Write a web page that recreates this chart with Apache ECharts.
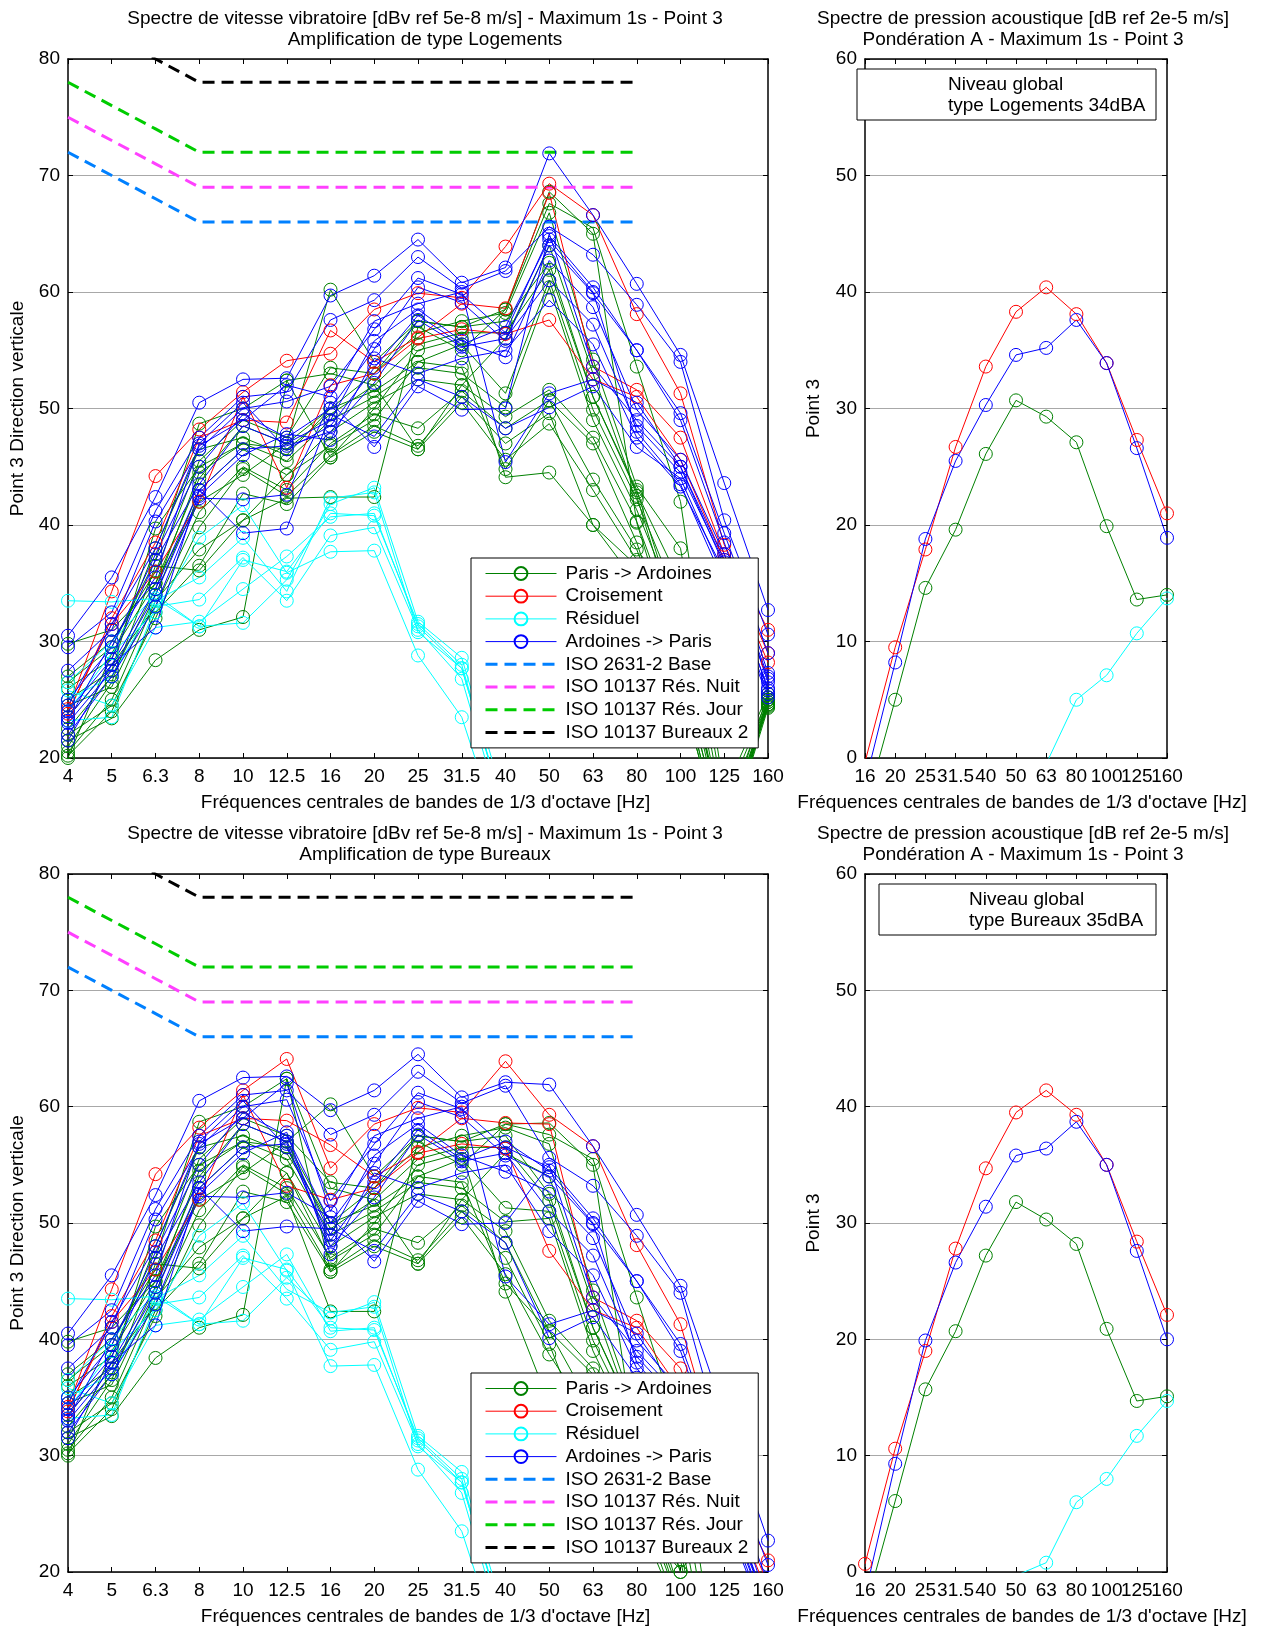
<!DOCTYPE html>
<html><head><meta charset="utf-8">
<script src="https://cdn.jsdelivr.net/npm/echarts@6/dist/echarts.min.js"></script>
<style>html,body{margin:0;padding:0;background:#fff}#c{width:1264px;height:1627px}</style>
</head><body><div id="c"></div><script>
// ---------- categories ----------
const frequencesVib = ['4','5','6.3','8','10','12.5','16','20','25','31.5','40','50','63','80','100','125','160'];
const frequencesAcou = ['16','20','25','31.5','40','50','63','80','100','125','160'];

// ---------- vibratory spectra, amplification type Logements (dBv) ----------
const parisArdoinesLog = [
  [29.8,31.0,35.0,44.0,48.5,47.0,60.2,54.0,57.5,57.0,58.5,67.6,65.5,53.6,42.0,17,25.5],
  [27.0,30.0,36.0,45.5,49.0,47.5,53.5,53.0,56.5,57.5,58.2,66.8,54.2,43.3,38,16,25.2],
  [26.5,29.5,37.0,48.7,50.0,52.4,53.0,52.0,55.5,56.5,56.5,61.9,51.0,42.8,35,15,25.0],
  [26.0,28.5,38.0,46.5,47.5,46.0,50.0,51.5,54.0,55.5,51.3,61.0,49.9,42.2,33,14,24.8],
  [25.0,27.5,39.7,45.0,47.0,45.5,49.0,51.0,53.5,53.0,50.1,60.4,49.0,41.3,32,13,24.6],
  [24.5,26.1,34.0,43.0,46.5,44.3,48.0,50.5,52.5,52.0,49.3,51.6,47.5,40.3,30,14,24.4],
  [23.5,28.0,33.0,41.1,45.0,43.0,47.0,49.5,48.3,51.5,48.3,50.7,43.9,37.9,28,13,24.5],
  [22.0,24.5,32.0,39.8,44.8,42.5,46.0,48.5,46.8,51.0,47.0,49.6,40.0,35,26,12,25.0],
  [21.5,23.4,28.4,31.0,32.1,52.4,45.8,48.0,46.5,50.5,45.6,48.7,43.0,37,27,12,24.3],
  [21.0,26.5,36.5,36.1,40.4,42.3,42.4,42.4,57.0,55.0,58.5,68.6,65.0,40.2,28,13,25.2],
  [20.5,25.0,33.5,37.9,40.4,44.3,46.8,49.0,54.0,53.5,44.8,50.7,47.0,38.5,27,12,24.6],
  [20.2,24.0,32.5,36.5,42.7,41.8,45.8,50.0,55.0,56.0,44.1,44.5,40.0,36.5,26,12,24.8],
  [20.0,29.0,35.0,42.0,44.3,47.0,50.0,53.0,57.5,57.0,57.5,62.5,51.0,43.0,31,14,25.5],
  [22.5,27.0,34.5,44.5,47.0,46.5,49.5,52.0,46.5,52.0,56.0,64.0,53.0,42.5,30,13,25.0]
];
const croisementLog = [
  [24.2,34.3,44.2,48.2,51.4,54.1,54.7,58.5,59.9,59.5,63.9,69.3,66.6,58.1,51.3,38.3,31.0],
  [23.8,32.0,38.5,47.5,49.0,48.8,56.7,54.0,56.1,59.0,58.6,68.5,53.6,51.6,47.5,37.5,29.0],
  [24.0,31.5,36.0,42.0,51.0,43.2,52.0,53.0,56.0,56.8,56.4,57.6,52.5,51.0,45.6,37.0,28.2]
];
const residuelLog = [
  [33.5,33.4,33.7,31.3,31.6,35.3,41.8,43.2,31.7,28.6,16,13,11,10,9,9,10],
  [25.8,24.5,31.2,31.7,34.5,37.3,40.7,41.0,31.3,27.7,15,12,10,9,9,8,9],
  [23.2,23.5,33.0,33.6,37.2,33.5,39.1,39.8,31.0,26.8,14,12,10,9,8,8,9],
  [25.0,27.0,33.5,35.5,38.9,34.3,42.3,42.8,30.8,27.7,15,13,11,10,9,9,10],
  [24.0,29.0,32.5,38.9,41.7,35.9,37.7,37.8,28.8,23.5,12,10,9,8,8,8,9],
  [26.5,30.0,34.0,31.3,37.0,36.0,41.0,40.8,31.5,28.0,15,12,10,9,9,8,9]
];
const ardoinesParisLog = [
  [30.5,35.5,42.4,50.5,52.5,52.6,59.7,61.4,64.5,60.8,62.1,71.9,66.6,60.7,54.6,43.6,32.7],
  [29.5,32.5,41.2,47.5,51.0,51.4,57.6,59.3,63.0,60.3,61.8,65.6,63.2,58.9,54.0,40.4,30.6],
  [27.5,31.0,40.3,46.5,50.0,50.6,51.9,56.8,61.2,59.8,56.5,64.8,60.4,55.0,49.6,39.3,29.0],
  [25.0,29.5,37.5,45.0,49.5,47.5,50.0,55.1,60.4,59.1,55.8,64.0,59.9,55.0,49.0,38.5,27.3],
  [24.0,28.5,37.0,43.5,48.5,47.0,49.0,55.8,58.5,55.8,54.4,62.7,58.7,49.9,45.6,37.5,26.5],
  [23.5,28.0,34.5,43.0,46.5,46.8,48.0,52.2,57.6,55.3,56.0,61.0,57.2,48.5,44.5,36.8,25.8],
  [23.0,27.5,34.0,42.5,46.0,47.8,47.3,54.3,53.0,54.3,55.0,59.3,55.5,47.5,43.3,36.0,26.0],
  [22.0,27.0,33.0,42.3,42.2,42.6,50.5,46.7,51.9,49.9,50.0,65.0,53.6,49.0,45.0,37.0,27.0],
  [21.5,28.0,31.2,43.0,39.3,39.7,49.5,47.6,52.5,51.0,48.3,50.1,51.9,46.7,44.0,35.5,25.5],
  [24.5,31.5,38.0,46.8,49.0,52.0,51.0,57.5,59.0,60.0,45.4,51.3,52.5,50.5,45.0,36.5,26.8],
  [23.2,30.0,35.5,47.0,50.5,46.5,48.5,53.5,58.0,55.5,57.0,64.5,60.0,48.0,43.5,35.0,25.2]
];
// difference Bureaux - Logements (dB per band)
const ecartBureauxLogements = [10,10,10,10,10,10,0,0,0,0,0,-10,-10,-10,-10,-10,-10];

// ---------- limit curves ----------
const iso2631Base   = [72,70,68,66,66,66,66,66,66,66,66,66,66,66,null,null,null];
const iso10137Nuit  = [75,73,71,69,69,69,69,69,69,69,69,69,69,69,null,null,null];
const iso10137Jour  = [78,76,74,72,72,72,72,72,72,72,72,72,72,72,null,null,null];
const iso10137Bur2  = [84,82,80,78,78,78,78,78,78,78,78,78,78,78,null,null,null];

// ---------- acoustic spectra (dBA) ----------
const acouParisArdoinesLog = [-4.4,5.0,14.6,19.6,26.1,30.7,29.3,27.1,19.9,13.6,14.0];
const acouCroisementLog    = [-0.35,9.5,17.9,26.7,33.6,38.3,40.4,38.1,33.9,27.3,21.0];
const acouResiduelLog      = [-30,-25,-20,-14,-8,-1.4,-0.5,5.0,7.1,10.7,13.7];
const acouArdoinesParisLog = [-2.2,8.2,18.8,25.5,30.3,34.6,35.2,37.6,33.9,26.6,18.9];
const acouParisArdoinesBur = [-3.3,6.1,15.7,20.7,27.2,31.8,30.3,28.2,20.9,14.7,15.1];
const acouCroisementBur    = [0.7,10.6,19.0,27.8,34.7,39.5,41.4,39.3,35.0,28.4,22.1];
const acouResiduelBur      = [-29,-24,-19,-13,-7,-0.3,0.8,6.0,8.0,11.7,14.7];
const acouArdoinesParisBur = [-2.0,9.3,19.9,26.6,31.4,35.8,36.4,38.7,35.0,27.6,20.0];

const legendNames = ['Paris -> Ardoines','Croisement','Résiduel','Ardoines -> Paris',
  'ISO 2631-2 Base','ISO 10137 Rés. Nuit','ISO 10137 Rés. Jour','ISO 10137 Bureaux 2'];

// ---------- styling ----------
const FONT = '"Liberation Sans", Arial, sans-serif';
const FS = 19;
const C_GREEN = '#008000', C_RED = '#ff0000', C_CYAN = '#00ffff', C_BLUE = '#0000ff';
const LIM_COLORS = ['#0080ff','#ff40ff','#00cc00','#000000'];

const gridsPos = [
  {left:67, top:59, width:701, height:699},
  {left:865, top:59, width:302, height:699},
  {left:67, top:874, width:701, height:699},
  {left:865, top:874, width:302, height:699}
];

const xAxes = [], yAxes = [];
gridsPos.forEach((g, gi) => {
  const cats = (gi % 2 === 0) ? frequencesVib : frequencesAcou;
  const isLeft = gi % 2 === 0;
  xAxes.push({
    gridIndex: gi, type:'category', data: cats, boundaryGap:false, position:'bottom',
    axisLine:{show:true, onZero:false, lineStyle:{color:'#000', width:1.5}},
    axisTick:{show:true, inside:true, length:5, interval:0, lineStyle:{color:'#000'}},
    axisLabel:{interval:0, color:'#000', fontSize:FS, fontFamily:FONT, margin:9},
    splitLine:{show:false},
    name:'Fréquences centrales de bandes de 1/3 d\'octave [Hz]', nameLocation:'middle', nameGap:35,
    nameTextStyle:{color:'#000', fontSize:FS, fontFamily:FONT, padding: isLeft ? [0,0,0,15] : [0,0,0,12]}
  });
  xAxes.push({
    gridIndex: gi, type:'category', data: cats, boundaryGap:false, position:'top',
    axisLine:{show:true, onZero:false, lineStyle:{color:'#000', width:1.5}},
    axisTick:{show:true, inside:true, length:5, interval:0, lineStyle:{color:'#000'}},
    axisLabel:{show:false}, splitLine:{show:false}
  });
  yAxes.push({
    gridIndex: gi, type:'value', position:'left',
    min: isLeft ? 20 : 0, max: isLeft ? 80 : 60, interval:10,
    axisLine:{show:true, onZero:false, lineStyle:{color:'#000', width:1.5}},
    axisTick:{show:true, inside:true, length:5, lineStyle:{color:'#000'}},
    axisLabel:{color:'#000', fontSize:FS, fontFamily:FONT, margin:8},
    splitLine:{show:true, lineStyle:{color:'#a8a8a8', width:1}},
    name: isLeft ? 'Point 3 Direction verticale' : 'Point 3', nameLocation:'middle',
    nameGap: isLeft ? 41 : 42, nameRotate:90,
    nameTextStyle:{color:'#000', fontSize:FS, fontFamily:FONT}
  });
  yAxes.push({
    gridIndex: gi, type:'value', position:'right',
    min: isLeft ? 20 : 0, max: isLeft ? 80 : 60, interval:10,
    axisLine:{show:true, onZero:false, lineStyle:{color:'#000', width:1.5}},
    axisTick:{show:true, inside:true, length:5, lineStyle:{color:'#000'}},
    axisLabel:{show:false}, splitLine:{show:false}
  });
});

const series = [];
function addLine(name, data, color, gi) {
  series.push({
    type:'line', name, data, xAxisIndex: gi*2, yAxisIndex: gi*2,
    symbol:'circle', symbolSize:13, showAllSymbol:true, clip:true, silent:true,
    itemStyle:{color:'rgba(0,0,0,0)', borderColor:color, borderWidth:1},
    lineStyle:{color, width:1},
    emphasis:{disabled:true}, animation:false
  });
}
function addLimit(name, data, color, gi) {
  series.push({
    type:'line', name, data, xAxisIndex: gi*2, yAxisIndex: gi*2,
    symbol:'none', clip:true, silent:true, connectNulls:false,
    itemStyle:{color:'rgba(0,0,0,0)', borderWidth:0},
    lineStyle:{color, width:3, type:[12,7]},
    emphasis:{disabled:true}, animation:false, z:3
  });
}
function withEcart(arr) { return arr.map((v, i) => v + ecartBureauxLogements[i]); }

// left charts
[[0, a => a], [2, withEcart]].forEach(([gi, tf]) => {
  parisArdoinesLog.forEach(d => addLine(legendNames[0], tf(d), C_GREEN, gi));
  croisementLog.forEach(d => addLine(legendNames[1], tf(d), C_RED, gi));
  residuelLog.forEach(d => addLine(legendNames[2], tf(d), C_CYAN, gi));
  ardoinesParisLog.forEach(d => addLine(legendNames[3], tf(d), C_BLUE, gi));
  addLimit(legendNames[4], iso2631Base, LIM_COLORS[0], gi);
  addLimit(legendNames[5], iso10137Nuit, LIM_COLORS[1], gi);
  addLimit(legendNames[6], iso10137Jour, LIM_COLORS[2], gi);
  addLimit(legendNames[7], iso10137Bur2, LIM_COLORS[3], gi);
});
// right charts
addLine('A Paris -> Ardoines', acouParisArdoinesLog, C_GREEN, 1);
addLine('A Croisement', acouCroisementLog, C_RED, 1);
addLine('A Résiduel', acouResiduelLog, C_CYAN, 1);
addLine('A Ardoines -> Paris', acouArdoinesParisLog, C_BLUE, 1);
addLine('A Paris -> Ardoines', acouParisArdoinesBur, C_GREEN, 3);
addLine('A Croisement', acouCroisementBur, C_RED, 3);
addLine('A Résiduel', acouResiduelBur, C_CYAN, 3);
addLine('A Ardoines -> Paris', acouArdoinesParisBur, C_BLUE, 3);

function legendAt(top) {
  return {
    data: legendNames, orient:'vertical', left:471, top, selectedMode:false,
    itemWidth:71, itemHeight:16, itemGap:3.7, padding:[6,10,6,13],
    backgroundColor:'#fff', borderColor:'#000', borderWidth:1,
    lineStyle:{width:'inherit'},
    textStyle:{color:'#000', fontSize:FS, fontFamily:FONT, lineHeight:19, padding:[0,0,0,4]}
  };
}
function titleAt(text, x, top) {
  return {text, left:x, top, textAlign:'center',
    textStyle:{color:'#000', fontSize:FS, fontWeight:'normal', fontFamily:FONT, lineHeight:21}};
}

const option = {
  backgroundColor:'#fff',
  animation:false,
  textStyle:{fontFamily:FONT},
  title:[
    titleAt('Spectre de vitesse vibratoire [dBv ref 5e-8 m/s] - Maximum 1s - Point 3\nAmplification de type Logements', 420, 3),
    titleAt('Spectre de pression acoustique [dB ref 2e-5 m/s]\nPondération A - Maximum 1s - Point 3', 1018, 3),
    titleAt('Spectre de vitesse vibratoire [dBv ref 5e-8 m/s] - Maximum 1s - Point 3\nAmplification de type Bureaux', 420, 818),
    titleAt('Spectre de pression acoustique [dB ref 2e-5 m/s]\nPondération A - Maximum 1s - Point 3', 1018, 818)
  ],
  legend:[legendAt(558), legendAt(1373)],
  grid: gridsPos.map(g => Object.assign({show:false, containLabel:false}, g)),
  xAxis: xAxes, yAxis: yAxes, series,
  graphic:[
    {type:'rect', z:100, shape:{x:857, y:69, width:299, height:51}, style:{fill:'#fff', stroke:'#000', lineWidth:1}},
    {type:'text', z:101, x:948, y:74, style:{text:'Niveau global\ntype Logements 34dBA', fill:'#000', font:'19px '+FONT, lineHeight:21}},
    {type:'rect', z:100, shape:{x:879, y:884, width:277, height:51}, style:{fill:'#fff', stroke:'#000', lineWidth:1}},
    {type:'text', z:101, x:969, y:889, style:{text:'Niveau global\ntype Bureaux 35dBA', fill:'#000', font:'19px '+FONT, lineHeight:21}}
  ]
};
const chart = echarts.init(document.getElementById('c'), null, {renderer:'canvas'});
chart.setOption(option);
</script></body></html>
